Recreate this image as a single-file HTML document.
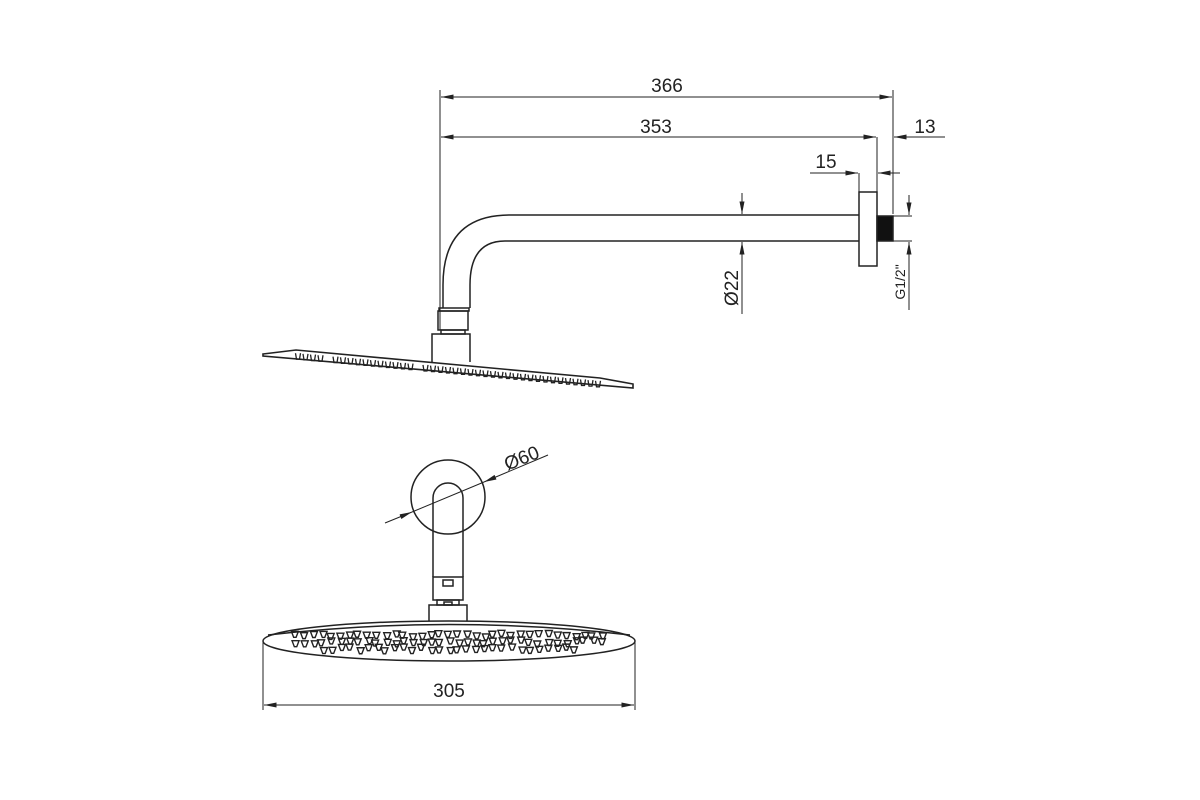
<!DOCTYPE html>
<html><head><meta charset="utf-8"><style>html,body{margin:0;background:#fff}svg{display:block}</style></head>
<body>
<svg id="s" width="1200" height="800" viewBox="0 0 1200 800" xmlns="http://www.w3.org/2000/svg" font-family="Liberation Sans, sans-serif" fill="none" stroke="#222" stroke-width="1.5">
<defs>
<marker id="a" viewBox="0 0 10 4" refX="10" refY="2" markerWidth="14" markerHeight="5" markerUnits="userSpaceOnUse" orient="auto-start-reverse"><path d="M0,0 L10,2 L0,4z" fill="#222" stroke="none"/></marker>
</defs>
<g stroke-width="1">
<line x1="440" y1="90" x2="440" y2="330"/>
<line x1="893" y1="90" x2="893" y2="214"/>
<line x1="877" y1="137" x2="877" y2="192"/>
<line x1="441" y1="97" x2="892" y2="97" marker-start="url(#a)" marker-end="url(#a)"/>
<line x1="441" y1="137" x2="876" y2="137" marker-start="url(#a)" marker-end="url(#a)"/>
<line x1="945" y1="137" x2="894" y2="137" marker-end="url(#a)"/>
<line x1="859" y1="173" x2="859" y2="192"/>
<line x1="810" y1="173" x2="858" y2="173" marker-end="url(#a)"/>
<line x1="900" y1="173" x2="878" y2="173" marker-end="url(#a)"/>
<line x1="742" y1="193" x2="742" y2="214" marker-end="url(#a)"/>
<line x1="742" y1="314" x2="742" y2="242" marker-end="url(#a)"/>
<line x1="893" y1="216" x2="912" y2="216"/>
<line x1="893" y1="241" x2="912" y2="241"/>
<line x1="909" y1="195" x2="909" y2="215" marker-end="url(#a)"/>
<line x1="909" y1="310" x2="909" y2="242" marker-end="url(#a)"/>
</g>
<g fill="#222" stroke="none" font-size="19">
<text x="667" y="92" text-anchor="middle">366</text>
<text x="656" y="133" text-anchor="middle">353</text>
<text x="925" y="133" text-anchor="middle">13</text>
<text x="826" y="168" text-anchor="middle">15</text>
<text transform="translate(738,288) rotate(-90)" text-anchor="middle">Ø22</text>
<text transform="translate(905,282) rotate(-90)" text-anchor="middle" font-size="14">G1/2"</text>
<text x="449" y="697" text-anchor="middle">305</text>
<text transform="translate(524,464) rotate(-22)" text-anchor="middle">Ø60</text>
</g>
<path d="M859,215 H510 Q443,215 443,285 V308"/>
<path d="M859,241 H505 Q470,241 470,285 V308"/>
<rect x="859" y="192" width="18" height="74"/>
<rect x="877" y="216" width="16" height="25" fill="#111"/>
<rect x="439" y="308" width="30" height="3"/>
<rect x="438" y="311" width="30" height="19"/>
<rect x="441" y="330" width="24" height="4"/>
<path d="M432,362 V334 H470 V362"/>
<path d="M263,354 L296,350 L600,378 L633,384 L633,388 L263,356 Z" stroke-width="1.6"/>
<g id="nz1" stroke-width="1.3"></g>
<circle cx="448" cy="497" r="37"/>
<path d="M433,577 V498 A15,15 0 0 1 463,498 V577"/>
<rect x="433" y="577" width="30" height="23"/>
<rect x="443" y="580" width="10" height="6"/>
<rect x="437" y="600" width="22" height="5"/>
<rect x="444" y="602" width="8" height="3"/>
<path d="M429,621 V605 H467 V621"/>
<ellipse cx="449" cy="641" rx="186" ry="20"/>
<path d="M268,635 Q449,614 630,635"/>
<g id="nz2" stroke-width="1.4"></g>
<g stroke-width="1">
<line x1="263" y1="641" x2="263" y2="710"/>
<line x1="635" y1="641" x2="635" y2="710"/>
<line x1="264" y1="705" x2="634" y2="705" marker-start="url(#a)" marker-end="url(#a)"/>
<line x1="385" y1="523" x2="412" y2="512" marker-end="url(#a)"/>
<line x1="548" y1="455" x2="484" y2="482" marker-end="url(#a)"/>
<line x1="412" y1="512" x2="484" y2="482"/>
</g>
</svg>
<script>
var ns="http://www.w3.org/2000/svg";
var g1=document.getElementById("nz1");
for(var x=298;x<600;x+=7.5){if(Math.abs(x-420)<4||Math.abs(x-330)<3)continue;var t=(x-296)/304;var y=351+t*28+2;
var p=document.createElementNS(ns,"path");p.setAttribute("d","M"+(x-2.5)+","+y+" L"+(x-1.5)+","+(y+6)+" L"+(x+1.5)+","+(y+6)+" L"+(x+2.5)+","+y);g1.appendChild(p);}
var g2=document.getElementById("nz2");var seed=3;function r(){seed=(seed*9301+49297)%233280;return seed/233280;}
for(var x=296;x<605;x+=9){for(var k=0;k<3;k++){var ex=Math.abs(x-449)/186;var h=20*Math.sqrt(1-ex*ex);if(k==2&&h<14)continue;var y=632+k*7+(r()-0.5)*4;
var xx=x+(r()-0.5)*4;var p=document.createElementNS(ns,"path");p.setAttribute("d","M"+(xx-3.5)+","+y+" L"+(xx+3.5)+","+y+" L"+(xx+1.2)+","+(y+6)+" L"+(xx-1.2)+","+(y+6)+"Z");g2.appendChild(p);}}
</script>
</body></html>
